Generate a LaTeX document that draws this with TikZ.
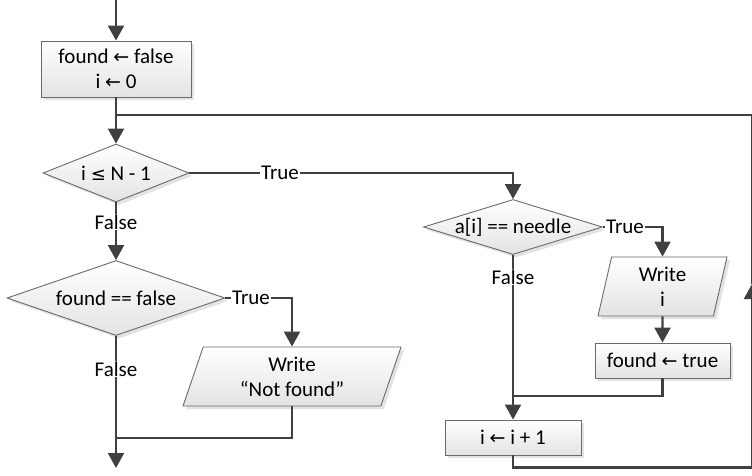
\documentclass[tikz,border=0pt]{standalone}
\usepackage{fontspec}
\setmainfont{Carlito}
\newfontfamily\symfont{DejaVu Sans}
\usetikzlibrary{shapes.geometric,arrows.meta,shadows}
\newcommand{\lar}{{\symfont\fontsize{19}{25}\selectfont ←}}
\newcommand{\leqsym}{{\symfont\fontsize{18}{25}\selectfont ≤}}
\definecolor{lineclr}{HTML}{404040}
\definecolor{edgeclr}{HTML}{6A6A6A}
\begin{document}
\begin{tikzpicture}[x=1pt,y=-1pt,
  every node/.style={font=\fontsize{21}{25}\selectfont, text=black},
  shapebase/.style={draw=edgeclr, line width=0.9pt, top color=white, bottom color=black!11,
    drop shadow={shadow xshift=3pt, shadow yshift=-3pt, fill=black!22}, inner sep=0pt, align=center},
  procbox/.style={shapebase, rectangle},
  decbox/.style={shapebase, diamond},
  iobox/.style={shapebase, trapezium, trapezium stretches body},
  conn/.style={draw=lineclr, line width=2.2pt},
  arr/.style={conn, -{Triangle[length=15pt,width=16pt]}},
  lbl/.style={fill=white, inner sep=1pt}
]
\useasboundingbox (0,0) rectangle (752,475);

\coordinate (top) at (116,0);
\node[procbox, minimum width=150pt, minimum height=56pt] (init) at (116,69) {found \lar{} false\\i \lar{} 0};
\node[decbox, minimum width=146pt, minimum height=58pt, aspect=2.5] (d1) at (116,173) {i \leqsym{} N - 1};
\node[decbox, minimum width=218pt, minimum height=75pt, aspect=2.9] (d3) at (116,298) {found == false};
\node[decbox, minimum width=179pt, minimum height=55pt, aspect=3.2] (d2) at (513,227) {a[i] == needle};
\node[iobox, trapezium left angle=63, trapezium right angle=117, minimum width=218pt, minimum height=59pt] (w2) at (292,376.5) {Write\\“Not found”};
\node[iobox, trapezium left angle=71, trapezium right angle=109, minimum width=129pt, minimum height=59pt] (w1) at (662.5,286.5) {Write\\i};
\node[procbox, minimum width=135pt, minimum height=35pt] (fset) at (662.5,360.5) {found \lar{} true};
\node[procbox, minimum width=136pt, minimum height=35pt] (inc) at (513,437.5) {i \lar{} i + 1};

\coordinate (j0) at (116,115);
\coordinate (j1) at (116,438);
\coordinate (j2) at (513,396);
\coordinate (bot) at (116,468);
\coordinate (rt) at (752,284);

\draw[arr] (top) -- (init);
\draw[arr] (init) -- (d1);
\draw[arr] (d1.east) -| (d2.north);
\draw[arr] (d1.south) -- (d3.north);
\draw[arr] (d3.east) -| (w2.north);
\draw[arr] (d3.south) -- (bot);
\draw[conn] (w2.south) |- (j1);
\draw[arr] (d2.east) -| (w1.north);
\draw[arr] (w1.south) -- (fset.north);
\draw[conn] (fset.south) |- (j2);
\draw[arr] (d2.south) -- (inc.north);
\draw[arr] (inc.south) -- ++(0,12) -| (rt);
\draw[conn] (rt) |- (j0);

\node[lbl] (t1) at (280,173) {True};
\node[lbl] (t3) at (251,298) {True};
\node[lbl] (t2) at (625,227) {True};
\node[lbl] (f1) at (116,222) {False};
\node[lbl] (f3) at (116,369) {False};
\node[lbl] (f2) at (513,277) {False};
\end{tikzpicture}
\end{document}
